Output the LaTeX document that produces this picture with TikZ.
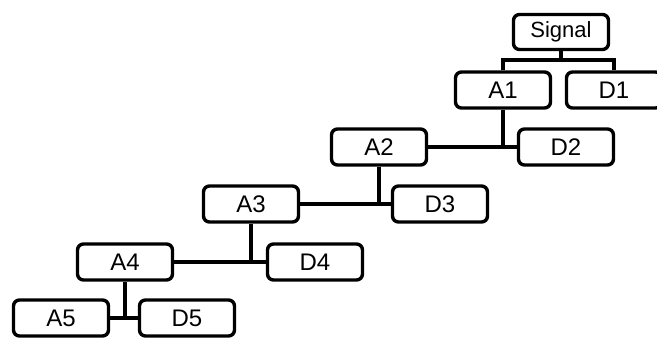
\documentclass[tikz,border=0pt]{standalone}
\usepackage{fontspec}
\setmainfont{Liberation Sans}
\usepackage{tikz}
\usetikzlibrary{positioning}

\begin{document}
\begin{tikzpicture}[x=1pt, y=-1pt,
    block/.style={rectangle, draw, line width=3.4pt, rounded corners=6pt,
                  minimum width=95pt, minimum height=36pt, inner sep=0pt,
                  font=\fontsize{24}{27}\selectfont},
    link/.style={line width=3.2pt}]
    \useasboundingbox (0,0) rectangle (657,341);
    \clip (0,0) rectangle (657,341);

    \node[block, minimum height=35pt, font=\fontsize{22}{25}\selectfont] at (561, 32) (signal) {Signal};
    \node[block] at (503, 90)  (a1) {A1};
    \node[block] at (614, 90)  (d1) {D1};
    \node[block] at (379, 147) (a2) {A2};
    \node[block] at (566, 147) (d2) {D2};
    \node[block] at (251, 204) (a3) {A3};
    \node[block] at (440, 204) (d3) {D3};
    \node[block] at (125, 262) (a4) {A4};
    \node[block] at (315, 262) (d4) {D4};
    \node[block] at (61, 318)  (a5) {A5};
    \node[block] at (187, 318) (d5) {D5};

    % split of the signal
    \coordinate (fork) at (561, 60);
    \draw[link] (signal.south) -- (fork);
    \draw[link] (a1.north) |- (fork) -| (d1.north);

    % next levels
    \draw[link] (a2.east) -- (d2.west);
    \draw[link] (a1.south) -- (a1.south |- a2.east);
    \draw[link] (a3.east) -- (d3.west);
    \draw[link] (a2.south) -- (a2.south |- a3.east);
    \draw[link] (a4.east) -- (d4.west);
    \draw[link] (a3.south) -- (a3.south |- a4.east);
    \draw[link] (a5.east) -- (d5.west);
    \draw[link] (a4.south) -- (a4.south |- a5.east);
\end{tikzpicture}
\end{document}
